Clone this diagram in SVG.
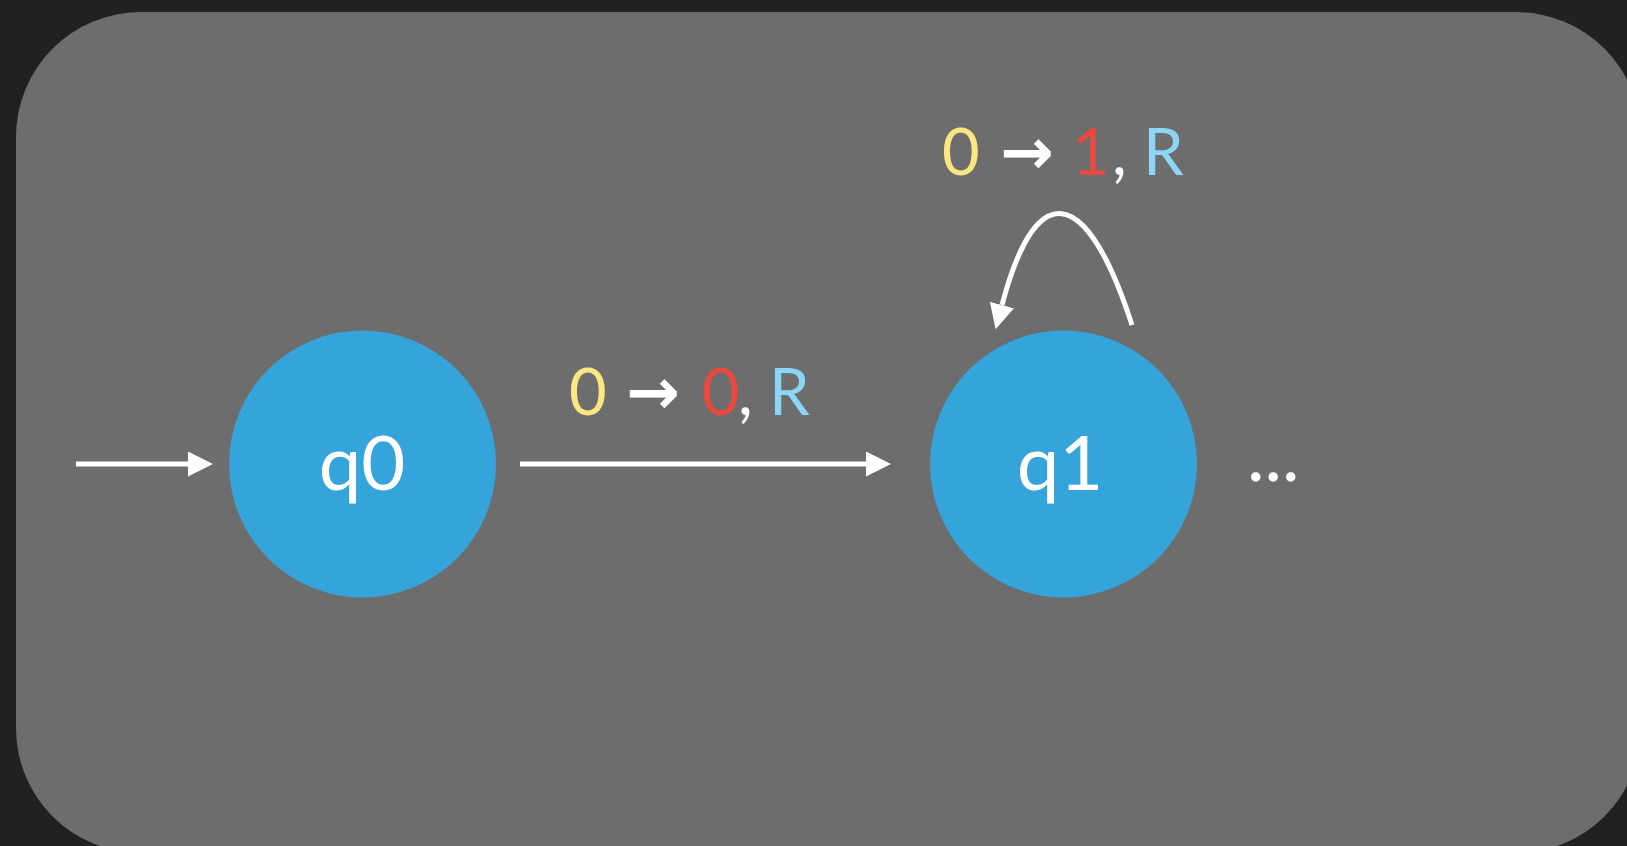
<svg xmlns="http://www.w3.org/2000/svg" width="1627" height="846" viewBox="0 0 1627 846">
  <style>
    .state { fill: #35a4da; }
    .name { font-family: Lato, "Open Sans", "Liberation Sans", sans-serif; font-size: 76px; fill: #ffffff; text-anchor: middle; }
    .label { font-family: Lato, "Open Sans", "Liberation Sans", sans-serif; font-size: 65px; fill: #ffffff; }
    .read { fill: #ffe680; }
    .write { fill: #e8493f; }
    .move { fill: #8dd5f4; }
    .arrowglyph { font-family: "DejaVu Sans", sans-serif; font-weight: bold; font-size: 64px; }
    .edge { fill: none; stroke: #ffffff; stroke-width: 5; }
  </style>
  <defs>
    <marker id="head" markerUnits="userSpaceOnUse" markerWidth="26" markerHeight="26" refX="0" refY="12.5" orient="auto" viewBox="0 0 26 26">
      <path d="M0,0 L25,12.5 L0,25 z" fill="#ffffff"/>
    </marker>
  </defs>

  <rect width="1627" height="846" fill="#212121"/>
  <rect x="16" y="12" width="1625" height="841" rx="125" ry="125" fill="#6d6d6d"/>

  <g id="connectors">
    <line class="edge" x1="76" y1="464" x2="188" y2="464" marker-end="url(#head)"/>
    <line class="edge" x1="520" y1="464" x2="866" y2="464" marker-end="url(#head)"/>
    <path class="edge" d="M1132,325 C1085,180 1035,180 1002,305" marker-end="url(#head)"/>
  </g>

  <g id="label-q0-q1">
    <text class="label" y="415"><tspan class="read" x="569">0</tspan><tspan class="arrowglyph" x="626" dy="-1">→</tspan><tspan class="write" x="702" dy="1">0</tspan><tspan x="738">,</tspan><tspan class="move" x="769">R</tspan></text>
  </g>

  <g id="label-q1-q1">
    <text class="label" y="175"><tspan class="read" x="942">0</tspan><tspan class="arrowglyph" x="1000" dy="-1">→</tspan><tspan class="write" x="1072" dy="1">1</tspan><tspan x="1112">,</tspan><tspan class="move" x="1143">R</tspan></text>
  </g>

  <g id="q0">
    <circle class="state" cx="362.5" cy="464" r="133.5"/>
    <text class="name" x="362" y="490">q0</text>
  </g>

  <g id="q1">
    <circle class="state" cx="1063.5" cy="464" r="133.5"/>
    <text class="name" x="1060" y="490">q1</text>
  </g>

  <g id="more">
    <text class="label" x="1247" y="481" style="font-size:74px">...</text>
  </g>
</svg>
